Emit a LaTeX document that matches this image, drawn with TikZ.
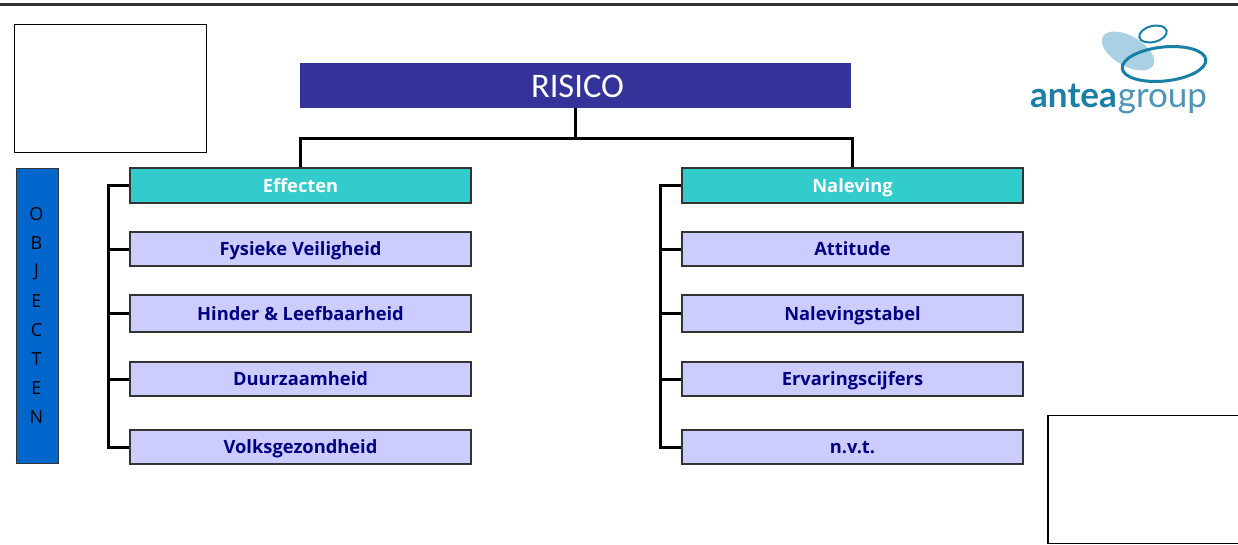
\documentclass[tikz,border=0pt]{standalone}
\usepackage{fontspec}
\setmainfont{Open Sans}
\newfontfamily\riskfont{Carlito}
\newfontfamily\logofont{Lato}
\definecolor{navyt}{HTML}{000080}
\definecolor{teal1}{HTML}{33CCCC}
\definecolor{lila}{HTML}{CCCCFF}
\definecolor{indigo1}{HTML}{333399}
\definecolor{blue1}{HTML}{0066CC}
\definecolor{edge1}{HTML}{333333}
\definecolor{logoA}{HTML}{1A7FA6}
\definecolor{logoC}{HTML}{4E94B4}
\definecolor{logoB}{HTML}{A9D1E3}
\tikzset{
  box/.style={draw=edge1,line width=1.2pt,minimum width=341pt,inner sep=0pt,anchor=center,text height=15pt,text depth=1.5pt,font=\fontsize{18.3}{20}\selectfont\bfseries},
  head/.style={box,fill=teal1,text=white,minimum height=35pt},
  item/.style={box,fill=lila,text=navyt},
  conn/.style={draw=black,line width=3pt,line cap=butt},
  blank/.style={draw=black,line width=1.7pt,fill=white,inner sep=0pt},
}
\begin{document}
\begin{tikzpicture}[x=1pt,y=-1pt]
\useasboundingbox (0,0) rectangle (1238,544);
\fill[white] (0,0) rectangle (1238,544);
\draw[draw=edge1,line width=2.6pt] (0,4.5) -- (1238,4.5);

\node[blank,minimum width=192pt,minimum height=128pt] (boxa) at (110.5,88.5) {};
\node[blank,minimum width=192pt,minimum height=128pt] (boxb) at (1144,479.5) {};

\node[fill=indigo1,text=white,minimum width=551pt,minimum height=45pt,inner sep=0pt,text height=24pt,text depth=1pt,font=\riskfont\fontsize{34.5}{36}\selectfont] (risico) at (575.5,85.5) {\hspace{4pt}RISICO};

\node[head] (eff) at (300.5,185.5) {Effecten};
\node[item,minimum height=34pt] (fys) at (300.5,249) {Fysieke Veiligheid};
\node[item,minimum height=37pt] (hin) at (300.5,313.5) {Hinder \& Leefbaarheid};
\node[item,minimum height=34pt] (duu) at (300.5,379) {Duurzaamheid};
\node[item,minimum height=34pt] (vol) at (300.5,447) {Volksgezondheid};

\node[head] (nal) at (852.5,185.5) {Naleving};
\node[item,minimum height=34pt] (att) at (852.5,249) {Attitude};
\node[item,minimum height=37pt] (ntb) at (852.5,313.5) {Nalevingstabel};
\node[item,minimum height=34pt] (erv) at (852.5,379) {Ervaringscijfers};
\node[item,minimum height=34pt] (nvt) at (852.5,447) {n.v.t.};

\node[draw=edge1,line width=1.7pt,fill=blue1,minimum width=42pt,minimum height=295pt,inner sep=0pt] (obj) at (37.5,316) {};
\foreach \n/\l/\yy in {a/O/214,b/B/243,c/J/272,d/E/301,e/C/330,f/T/359,g/E/388,h/N/417}
  \node[font=\fontsize{18}{20}\selectfont,text=black,inner sep=0pt] (obj\n) at (36.5,\yy) {\l};

% connectors
\coordinate (bus) at (575.5,138);
\draw[conn] (risico.south) -- (bus);
\draw[conn] (eff.north) |- (bus) -| (nal.north);
\draw[conn] (eff.west) -- ++(-21,0) |- (vol.west);
\draw[conn] (fys.west) -- ++(-21,0);
\draw[conn] (hin.west) -- ++(-21,0);
\draw[conn] (duu.west) -- ++(-21,0);
\draw[conn] (nal.west) -- ++(-21,0) |- (nvt.west);
\draw[conn] (att.west) -- ++(-21,0);
\draw[conn] (ntb.west) -- ++(-21,0);
\draw[conn] (erv.west) -- ++(-21,0);

% logo
\fill[logoB,rotate around={-30:(1128,51)}] (1128,51) ellipse [x radius=29pt,y radius=15pt];
\draw[logoA,line width=2pt,rotate around={14:(1153,34)}] (1153,34) ellipse [x radius=14pt,y radius=8pt];
\draw[logoA,line width=3pt,rotate around={6:(1164,64)}] (1164,64) ellipse [x radius=42pt,y radius=17pt];
\node[anchor=base west,inner sep=0pt,text=logoC,font=\logofont\fontsize{35}{37}\selectfont] (logo) at (1030,107) {\textcolor{logoA}{\textbf{antea}}\hspace{1pt}group};
\end{tikzpicture}
\end{document}
